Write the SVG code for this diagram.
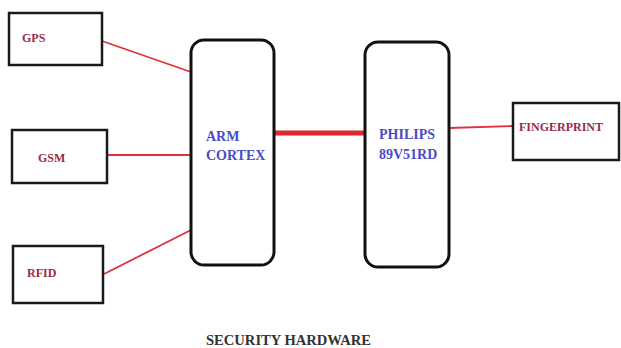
<svg xmlns="http://www.w3.org/2000/svg" width="621" height="348" viewBox="0 0 621 348">
<style>
.box{fill:#fff;stroke:#1a1a1a;stroke-width:2.5}
.rbox{fill:#fff;stroke:#111;stroke-width:3}
.lbl{font-family:"Liberation Serif",serif;font-weight:bold;font-size:12px;fill:#9b2a4a}
.core{font-family:"Liberation Serif",serif;font-weight:bold;font-size:14px;fill:#4b4bc8}
.title{font-family:"Liberation Serif",serif;font-weight:bold;font-size:14.5px;fill:#333}
.wire{stroke:#e0303c;stroke-width:1.8;fill:none}
.bus{stroke:#e0262e;stroke-width:5;fill:none}
</style>
<rect width="621" height="348" fill="#fff"/>
<g id="connectors">
<line class="wire" x1="102" y1="41" x2="191" y2="72"/>
<line class="wire" x1="107" y1="155" x2="191" y2="155"/>
<line class="wire" x1="104" y1="274" x2="191" y2="230"/>
<line class="bus" x1="274" y1="133" x2="365" y2="133"/>
<line class="wire" x1="449" y1="128" x2="513" y2="126"/>
</g>
<g id="gps"><rect class="box" x="9" y="13" width="93" height="52"/><text class="lbl" x="22" y="42">GPS</text></g>
<g id="gsm"><rect class="box" x="12" y="130" width="95" height="53"/><text class="lbl" x="38" y="162">GSM</text></g>
<g id="rfid"><rect class="box" x="13" y="246" width="90" height="57"/><text class="lbl" x="27" y="277">RFID</text></g>
<g id="arm"><rect class="rbox" x="191" y="40" width="83" height="225" rx="13"/><text class="core" x="206" y="141">ARM</text><text class="core" x="206" y="160">CORTEX</text></g>
<g id="philips"><rect class="rbox" x="365" y="42" width="84" height="225" rx="13"/><text class="core" x="379" y="139">PHILIPS</text><text class="core" x="379" y="159">89V51RD</text></g>
<g id="fingerprint"><rect class="box" x="513" y="103" width="106" height="57"/><text class="lbl" x="519" y="131">FINGERPRINT</text></g>
<text class="title" x="206" y="345" textLength="165" lengthAdjust="spacingAndGlyphs">SECURITY HARDWARE</text>
</svg>
